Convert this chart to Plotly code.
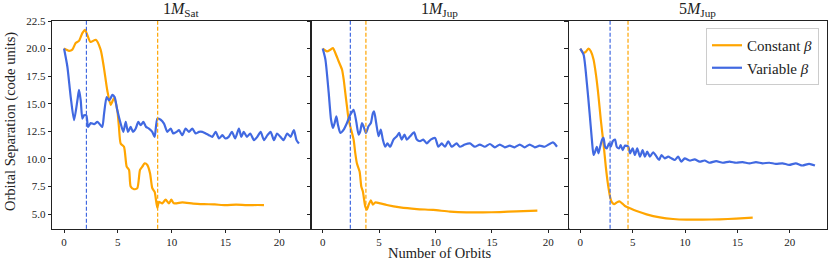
import plotly.graph_objects as go

# ---------------- data ----------------
panel_titles = ["1<i>M</i><sub>Sat</sub>", "1<i>M</i><sub>Jup</sub>", "5<i>M</i><sub>Jup</sub>"]
series_names = ["Constant <i>β</i>", "Variable <i>β</i>"]

p1_const_x = [0, 0.46, 0.77, 1.08, 1.39, 1.7, 1.95, 2.45, 2.95, 3.4, 3.7, 4.02, 4.33, 4.65, 4.95, 5.1, 5.26,
              5.57, 5.82, 6.04, 6.19, 6.5, 6.81, 7.06, 7.28, 7.49, 7.74, 7.99, 8.2, 8.42, 8.67, 8.82, 9.13,
              9.44, 9.75, 9.97, 10.2, 11.0, 12.0, 13.0, 14.0, 15.0, 16.0, 17.0, 18.0, 18.58]
p1_const_y = [20.0, 19.8, 19.9, 20.5, 20.7, 21.4, 21.7, 20.6, 20.8, 19.9, 18.3, 16.2, 14.9, 15.5, 14.4, 12.9, 11.4,
              11.1, 9.3, 9.0, 7.5, 7.25, 7.35, 9.0, 9.3, 9.6, 9.45, 8.7, 7.35, 7.0, 5.55, 6.1, 5.97,
              6.3, 5.97, 6.3, 5.97, 6.05, 5.95, 5.9, 5.87, 5.8, 5.85, 5.8, 5.82, 5.8]
p1_var_x = [0, 0.31, 0.62, 0.93, 1.24, 1.39, 1.55, 1.7, 1.86, 2.07, 2.23, 2.48, 2.79, 3.1, 3.4, 3.56, 3.72,
            3.96, 4.18, 4.33, 4.49, 4.7, 4.95, 5.26, 5.51, 5.73, 5.94, 6.19, 6.41, 6.66, 6.9, 7.12, 7.37,
            7.62, 7.89, 8.2, 8.42, 8.67, 8.98, 9.29, 9.6, 9.91, 10.15, 10.46, 10.68, 10.99, 11.3, 11.6,
            11.92, 12.23, 12.54, 12.85, 13.16, 13.47, 13.78, 14.09, 14.4, 14.71, 15.0, 15.3, 15.6, 15.9,
            16.25, 16.47, 16.7, 17.0, 17.3, 17.65, 17.96, 18.27, 18.58, 18.9, 19.2, 19.5, 19.8, 20.1,
            20.4, 20.74, 21.05, 21.36, 21.6, 21.83]
p1_var_y = [20.0, 18.35, 15.6, 13.5, 15.3, 16.25, 15.3, 13.65, 13.95, 13.95, 12.9, 13.25, 13.15, 13.35, 13.05, 12.9, 14.1,
            15.6, 15.3, 15.5, 15.8, 15.6, 14.4, 13.2, 12.45, 13.35, 12.45, 12.9, 12.45, 12.75, 13.35, 13.05, 13.35,
            12.9, 12.75, 12.45, 12.0, 13.65, 13.55, 13.2, 12.45, 12.75, 12.3, 12.45, 12.6, 12.15, 12.75, 12.45,
            12.75, 12.3, 12.45, 12.45, 12.3, 12.15, 12.0, 12.45, 11.85, 12.15, 11.85, 12.0, 12.45, 11.85,
            12.75, 12.0, 12.45, 12.0, 12.3, 11.7, 12.0, 12.45, 11.7, 12.15, 12.45, 11.7, 12.3, 12.0,
            11.7, 12.3, 12.0, 12.6, 11.7, 11.4]

p2_const_x = [0, 0.38, 0.68, 0.91, 1.12, 1.41, 1.71, 1.86, 2.0, 2.15, 2.3, 2.44, 2.74, 2.89, 3.03, 3.27, 3.42,
              3.56, 3.77, 3.92, 4.06, 4.27, 4.45, 4.65, 5.1, 5.68, 6.86, 8.34, 9.8, 11.28, 12.75, 14.2, 15.7,
              17.17, 19.03]
p2_const_y = [20.0, 19.75, 19.9, 20.05, 19.6, 18.85, 18.1, 17.2, 16.0, 14.75, 13.55, 12.95, 11.75, 10.5, 9.6, 8.85, 7.5,
              7.05, 5.7, 5.4, 5.8, 6.25, 5.85, 6.05, 5.97, 5.82, 5.6, 5.45, 5.37, 5.22, 5.15, 5.15, 5.18,
              5.24, 5.3]
p2_var_x = [0, 0.24, 0.53, 0.74, 0.91, 1.06, 1.21, 1.35, 1.56, 1.86, 2.15, 2.44, 2.74, 2.97, 3.18, 3.33, 3.48,
            3.62, 3.83, 4.06, 4.27, 4.45, 4.56, 4.74, 4.95, 5.15, 5.33, 5.54, 5.74, 5.98, 6.27, 6.57, 6.77,
            7.0, 7.25, 7.45, 7.75, 8.1, 8.34, 8.63, 8.92, 9.22, 9.57, 9.96, 10.25, 10.55, 10.84, 11.13,
            11.43, 11.87, 12.16, 12.6, 13.05, 13.49, 13.93, 14.37, 14.82, 15.26, 15.7, 16.14, 16.58, 17.02,
            17.47, 17.9, 18.35, 18.8, 19.23, 19.68, 20.41, 20.77]
p2_var_y = [20.0, 19.0, 16.0, 13.55, 12.8, 13.25, 13.85, 13.1, 12.35, 12.65, 13.25, 14.0, 14.45, 13.4, 12.2, 12.5, 13.25,
            12.95, 12.35, 12.95, 13.25, 14.15, 14.3, 13.25, 12.05, 12.65, 11.75, 11.1, 11.4, 11.1, 11.75, 12.05, 12.35,
            11.75, 12.2, 11.75, 12.05, 12.4, 11.75, 11.6, 11.75, 11.4, 11.75, 11.9, 11.1, 11.4, 11.1, 11.6,
            11.1, 11.4, 11.1, 11.3, 11.4, 11.1, 11.3, 11.1, 11.35, 11.05, 11.3, 11.05, 11.2, 11.05,
            11.3, 11.05, 11.3, 11.05, 11.2, 11.1, 11.5, 11.1]

p3_const_x = [0, 0.32, 0.57, 0.79, 1.01, 1.27, 1.52, 1.74, 1.96, 2.22, 2.44, 2.63, 2.85, 3.0, 3.23, 3.48, 3.73,
              3.99, 4.27, 4.75, 5.38, 6.33, 7.6, 8.86, 10.13, 11.7, 13.3, 14.87, 16.46]
p3_const_y = [20.0, 19.6, 19.75, 20.0, 19.75, 19.0, 17.5, 15.7, 13.55, 11.4, 9.3, 7.8, 6.55, 6.1, 5.9, 6.05, 6.15,
              5.97, 5.73, 5.52, 5.27, 4.97, 4.7, 4.55, 4.49, 4.49, 4.52, 4.58, 4.67]
p3_var_x = [0, 0.32, 0.63, 0.89, 1.11, 1.27, 1.42, 1.58, 1.74, 1.9, 2.09, 2.22, 2.37, 2.53, 2.75, 2.91, 3.1,
            3.32, 3.48, 3.7, 3.86, 4.05, 4.27, 4.59, 4.75, 5.0, 5.22, 5.44, 5.7, 5.95, 6.17, 6.39, 6.65,
            6.96, 7.28, 7.53, 7.75, 8.07, 8.39, 8.7, 9.02, 9.34, 9.65, 9.97, 10.44, 10.92, 11.39, 11.87,
            12.34, 12.97, 13.6, 14.24, 14.87, 15.5, 16.14, 16.77, 17.4, 18.04, 18.67, 19.3, 19.94, 20.57,
            21.2, 21.84, 22.4]
p3_var_y = [20.0, 19.45, 16.9, 14.2, 11.75, 10.35, 10.65, 11.1, 10.5, 11.1, 11.75, 11.9, 11.1, 10.95, 11.4, 11.1, 11.6,
            11.75, 11.1, 10.95, 11.25, 10.8, 11.2, 11.1, 10.5, 10.95, 10.35, 10.95, 10.2, 10.8, 10.2, 10.65, 10.2,
            10.6, 10.2, 9.9, 10.35, 10.05, 10.2, 10.05, 9.9, 10.2, 9.75, 10.05, 9.85, 9.95, 9.75, 9.85,
            9.65, 9.8, 9.65, 9.75, 9.65, 9.7, 9.6, 9.7, 9.6, 9.65, 9.55, 9.6, 9.45, 9.6,
            9.4, 9.55, 9.4]

const_marker_x = [8.7, 3.83, 4.56]   # dashed orange lines
var_marker_x = [2.08, 2.45, 2.85]    # dashed blue lines

y_ticks = [5.0, 7.5, 10.0, 12.5, 15.0, 17.5, 20.0, 22.5]
x_ticks = [0, 5, 10, 15, 20]
x_label = "Number of Orbits"
y_label = "Orbital Separation (code units)"

# ---------------- figure ----------------
ORANGE = "#FFA500"
BLUE = "#4169E1"
FONT = "Liberation Serif"
W, H = 830, 260

panels = [
    (p1_const_x, p1_const_y, p1_var_x, p1_var_y),
    (p2_const_x, p2_const_y, p2_var_x, p2_var_y),
    (p3_const_x, p3_const_y, p3_var_x, p3_var_y),
]
dom_px = [(52.3, 310.7), (311.0, 568.7), (568.5, 826.7)]
y_dom = [1 - 228.7 / H, 1 - 21 / H]
y_range = [3.67, 22.5]

fig = go.Figure()
for i, (cx, cy, vx, vy) in enumerate(panels):
    xa = "x" if i == 0 else f"x{i+1}"
    ya = "y" if i == 0 else f"y{i+1}"
    fig.add_trace(go.Scatter(x=cx, y=cy, mode="lines", name=series_names[0], xaxis=xa, yaxis=ya,
                             line=dict(color=ORANGE, width=2.2, shape="spline", smoothing=0.6),
                             showlegend=(i == 2), legendrank=1))
    fig.add_trace(go.Scatter(x=vx, y=vy, mode="lines", name=series_names[1], xaxis=xa, yaxis=ya,
                             line=dict(color=BLUE, width=2.2, shape="spline", smoothing=0.6),
                             showlegend=(i == 2), legendrank=2))
    xmax = max(max(cx), max(vx))
    pad = 0.05 * xmax
    axis_common = dict(showline=True, linecolor="#222", linewidth=1, mirror=True,
                       ticks="outside", ticklen=3.5, tickwidth=0.8, tickcolor="#222",
                       showgrid=False, zeroline=False, automargin=False,
                       tickfont=dict(family=FONT, size=11, color="#222"))
    fig.layout[f"xaxis{'' if i == 0 else i+1}"] = dict(
        domain=[dom_px[i][0] / W, dom_px[i][1] / W], anchor=ya,
        range=[-pad, xmax + pad], tickvals=x_ticks, **axis_common)
    fig.layout[f"yaxis{'' if i == 0 else i+1}"] = dict(
        domain=y_dom, anchor=xa, range=y_range, tickvals=y_ticks,
        tickformat=".1f", showticklabels=(i == 0), **axis_common)
    fig.add_shape(type="line", xref=xa, yref=f"{ya} domain", x0=var_marker_x[i], x1=var_marker_x[i],
                  y0=0, y1=1, line=dict(color=BLUE, width=1.2, dash="4px,2px"))
    fig.add_shape(type="line", xref=xa, yref=f"{ya} domain", x0=const_marker_x[i], x1=const_marker_x[i],
                  y0=0, y1=1, line=dict(color=ORANGE, width=1.2, dash="4px,2px"))
    fig.add_annotation(text=panel_titles[i], xref="paper", yref="paper",
                       x=(dom_px[i][0] + dom_px[i][1]) / 2 / W, y=1 - 10 / H,
                       xanchor="center", yanchor="middle", showarrow=False,
                       font=dict(family=FONT, size=16, color="#222"))

fig.add_annotation(text=x_label, xref="paper", yref="paper", x=439 / W, y=1 - 252.5 / H,
                   xanchor="center", yanchor="middle", showarrow=False,
                   font=dict(family=FONT, size=14.5, color="#222"))
fig.add_annotation(text=y_label, xref="paper", yref="paper", x=10 / W, y=1 - 122 / H,
                   xanchor="center", yanchor="middle", showarrow=False, textangle=-90,
                   font=dict(family=FONT, size=14.5, color="#222"))

fig.update_layout(
    width=W, height=H, margin=dict(l=0, r=0, t=0, b=0, autoexpand=False),
    paper_bgcolor="white", plot_bgcolor="white",
    showlegend=True,
    legend=dict(x=819 / W, y=1 - 28 / H, xanchor="right", yanchor="top",
                bgcolor="rgba(255,255,255,0.8)", bordercolor="#cccccc", borderwidth=1,
                font=dict(family=FONT, size=15, color="#222"), itemwidth=30,
                tracegroupgap=0),
)

fig.write_html("out.html", config={"displayModeBar": False},
               post_script="document.body.style.margin='0px';document.body.style.padding='0px';")
